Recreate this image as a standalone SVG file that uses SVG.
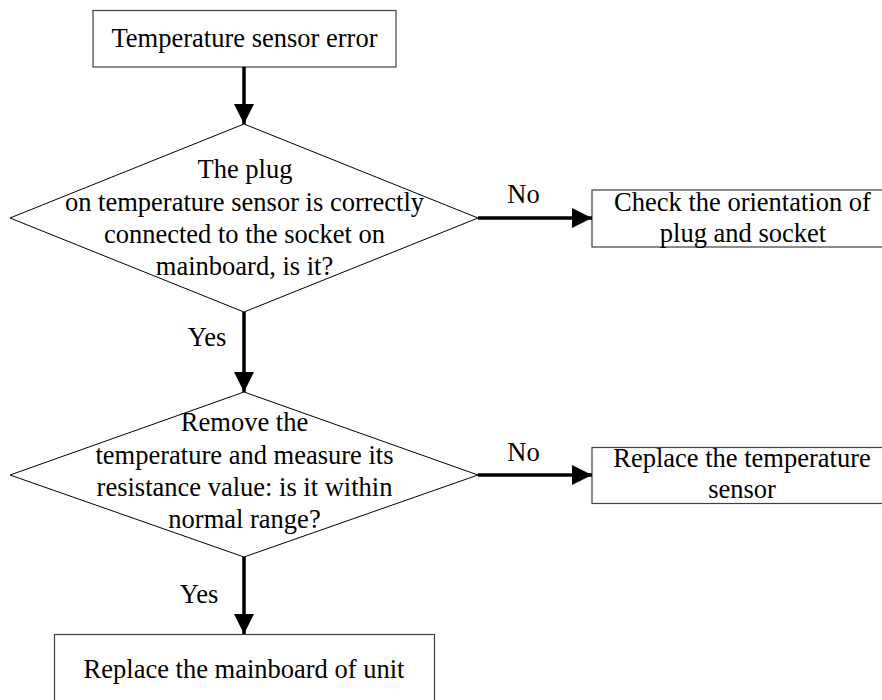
<svg xmlns="http://www.w3.org/2000/svg" width="882" height="700" viewBox="0 0 882 700">
<defs>
<style>
.box{fill:#fff;stroke:#404040;stroke-width:1.2}
.dia{fill:#fff;stroke:#000;stroke-width:1}
.t{font-family:"Liberation Serif","Times New Roman",serif;font-size:26.5px;fill:#000;text-anchor:middle}
.c{stroke:#000;stroke-width:3.5;fill:none}
</style>
<marker id="ah" viewBox="0 0 20 20" refX="20" refY="10" markerWidth="20" markerHeight="20" markerUnits="userSpaceOnUse" orient="auto">
<path d="M0,0 L20,10 L0,20 Z" fill="#000"/>
</marker>
</defs>
<rect width="882" height="700" fill="#fff"/>
<g id="start">
<rect class="box" x="93" y="10.5" width="303" height="56.5"/>
<text class="t" x="244.5" y="47">Temperature sensor error</text>
</g>
<g id="dec1">
<polygon class="dia" points="244,124 478,218 244,312 10,218"/>
<text class="t" x="245" y="178">The plug</text>
<text class="t" x="244.5" y="210.5">on temperature sensor is correctly</text>
<text class="t" x="244.5" y="242.5">connected to the socket on</text>
<text class="t" x="244.5" y="274.5">mainboard, is it?</text>
</g>
<g id="check">
<rect class="box" x="592" y="190" width="300" height="57"/>
<text class="t" x="742.5" y="211">Check the orientation of</text>
<text class="t" x="743" y="241.5">plug and socket</text>
</g>
<g id="dec2">
<polygon class="dia" points="244,392 478,475 244,557 10,475"/>
<text class="t" x="244.5" y="431">Remove the</text>
<text class="t" x="244.5" y="463.5">temperature and measure its</text>
<text class="t" x="244.5" y="495.5">resistance value: is it within</text>
<text class="t" x="244.5" y="527.5">normal range?</text>
</g>
<g id="replaceSensor">
<rect class="box" x="592" y="447.5" width="300" height="56"/>
<text class="t" x="742" y="467">Replace the temperature</text>
<text class="t" x="742" y="498">sensor</text>
</g>
<g id="replaceBoard">
<rect class="box" x="54.5" y="634.5" width="380" height="80"/>
<text class="t" x="244" y="677.5">Replace the mainboard of unit</text>
</g>
<g id="connectors">
<line class="c" x1="244" y1="67" x2="244" y2="124" marker-end="url(#ah)"/>
<line class="c" x1="478" y1="218" x2="592" y2="218" marker-end="url(#ah)"/>
<line class="c" x1="244" y1="312" x2="244" y2="392" marker-end="url(#ah)"/>
<line class="c" x1="478" y1="475" x2="592" y2="475" marker-end="url(#ah)"/>
<line class="c" x1="244" y1="557" x2="244" y2="634" marker-end="url(#ah)"/>
<text class="t" x="523.5" y="203">No</text>
<text class="t" x="523.5" y="460.5">No</text>
<text class="t" x="207" y="346">Yes</text>
<text class="t" x="199" y="603">Yes</text>
</g>
</svg>
